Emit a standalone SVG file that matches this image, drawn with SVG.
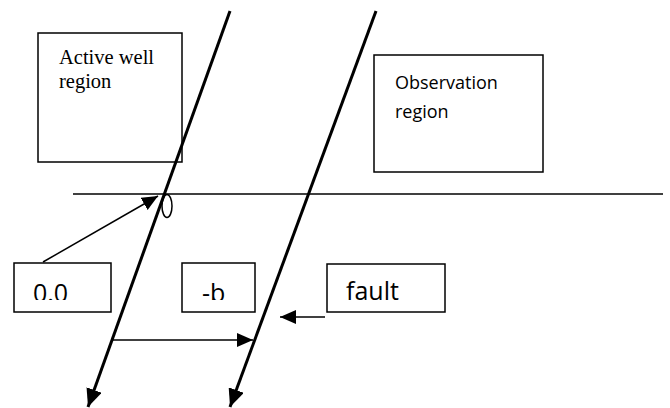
<svg xmlns="http://www.w3.org/2000/svg" width="670" height="408" viewBox="0 0 670 408">
<style>
.box{fill:#fff;stroke:#000;stroke-width:1.5}
.fault{stroke:#000;stroke-width:3;fill:none}
.thin{stroke:#000;stroke-width:1.5;fill:none}
.serif{font-family:"Liberation Serif","Times New Roman",serif;font-size:20.5px;fill:#000}
.sans{font-family:"Open Sans","DejaVu Sans",sans-serif;fill:#000}
</style>
<defs>
<marker id="bigArrow" markerUnits="userSpaceOnUse" markerWidth="20" markerHeight="16" refX="18" refY="8" orient="auto">
<path d="M0,0 L18,8 L0,16 Z" fill="#000"/>
</marker>
<marker id="smallArrow" markerUnits="userSpaceOnUse" markerWidth="18" markerHeight="14" refX="16" refY="7" orient="auto">
<path d="M0,0 L16,7 L0,14 Z" fill="#000"/>
</marker>
<clipPath id="clipTxt"><rect x="0" y="0" width="670" height="300"/></clipPath>
</defs>
<rect width="670" height="408" fill="#fff"/>
<g id="active-well">
<rect class="box" x="38" y="33" width="144" height="129"/>
<text class="serif" x="59" y="64">Active well</text>
<text class="serif" x="59" y="88">region</text>
</g>
<g id="observation">
<rect class="box" x="374" y="55" width="169" height="117"/>
<text class="sans" font-size="18" x="395" y="89">Observation</text>
<text class="sans" font-size="18" x="395" y="118">region</text>
</g>
<g id="origin">
<rect class="box" x="14" y="263" width="97" height="49"/>
<text class="sans" font-size="25" x="33" y="302" clip-path="url(#clipTxt)">0.0</text>
</g>
<g id="minus-b">
<rect class="box" x="182" y="263" width="73" height="49"/>
<text class="sans" font-size="25" x="202" y="302" clip-path="url(#clipTxt)">-b</text>
</g>
<g id="fault-label">
<rect class="box" x="327" y="264" width="118" height="48"/>
<text class="sans" font-size="25" x="346" y="300">fault</text>
</g>
<g id="connectors">
<line class="thin" x1="73" y1="194" x2="663" y2="194"/>
<line class="fault" x1="230" y1="11" x2="88" y2="407" marker-end="url(#bigArrow)"/>
<line class="fault" x1="376" y1="11" x2="230" y2="407" marker-end="url(#bigArrow)"/>
<ellipse class="thin" cx="167" cy="206" rx="5" ry="11.5"/>
<line class="thin" x1="43" y1="262" x2="158" y2="196" marker-end="url(#smallArrow)"/>
<line class="thin" x1="112" y1="340" x2="253" y2="340" marker-end="url(#smallArrow)"/>
<line class="thin" x1="325" y1="317" x2="280" y2="317" marker-end="url(#smallArrow)"/>
</g>
</svg>
